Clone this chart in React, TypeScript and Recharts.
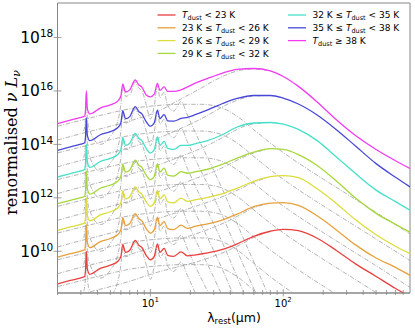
import React from "react";
import { LineChart, Line, XAxis, YAxis, Legend, ReferenceArea } from "recharts";

// wavelength grids (micron)
const lamT = [2, 2.5, 3, 3.2, 3.25, 3.3, 3.35, 3.5, 4.2, 5, 5.7, 6, 6.2, 6.5, 7, 7.7, 8.2, 8.6, 9.3, 10, 10.7, 11.3, 11.8, 12.7, 13.5, 15, 17, 19, 22, 27, 35, 45, 60, 80, 100, 130, 180, 250, 350, 500, 700, 900];
const lamP = [3.15, 3.25, 3.3, 3.35, 3.45, 4.2, 5, 5.7, 6, 6.2, 6.5, 7, 7.7, 8.2, 8.6, 9.3, 10, 10.7, 11.3, 11.8, 12.7, 13.5, 15, 17, 19, 22, 27, 35, 50, 75, 110];
const lamC = [2, 3, 4.5, 7, 11, 17, 24, 33, 45, 60, 80, 110, 150, 200, 300, 450, 650, 900];
const lamD = [2, 3, 4.5, 7, 11, 17, 24, 30, 38, 48, 60, 75];

// log10 of renormalised nu L_nu : total SEDs
const sedRed = [8.78, 8.91, 9.01, 9.06, 9.29, 10.0, 9.36, 9.14, 9.36, 9.48, 9.63, 9.81, 10.26, 9.96, 10.04, 10.41, 10.22, 10.15, 9.85, 9.68, 9.81, 10.28, 9.96, 10.11, 9.85, 9.81, 9.98, 9.83, 9.87, 9.94, 10.07, 10.28, 10.56, 10.75, 10.82, 10.77, 10.49, 10.04, 9.53, 9.06, 8.61, 8.31];
const sedOrange = [9.78, 9.91, 10.01, 10.06, 10.29, 11.0, 10.36, 10.14, 10.36, 10.48, 10.63, 10.81, 11.26, 10.96, 11.04, 11.41, 11.22, 11.15, 10.85, 10.68, 10.81, 11.28, 10.96, 11.11, 10.85, 10.81, 10.98, 10.86, 10.94, 11.03, 11.18, 11.39, 11.67, 11.8, 11.82, 11.72, 11.33, 10.81, 10.24, 9.75, 9.4, 9.1];
const sedYellow = [10.78, 10.91, 11.01, 11.06, 11.29, 12.0, 11.36, 11.14, 11.36, 11.48, 11.63, 11.81, 12.26, 11.96, 12.04, 12.41, 12.22, 12.15, 11.85, 11.68, 11.81, 12.28, 11.96, 12.11, 11.85, 11.81, 11.99, 11.87, 11.93, 12.02, 12.16, 12.36, 12.62, 12.79, 12.83, 12.76, 12.34, 11.8, 11.18, 10.62, 10.19, 9.91];
const sedGreen = [11.78, 11.91, 12.01, 12.06, 12.29, 13.0, 12.36, 12.14, 12.36, 12.48, 12.63, 12.81, 13.26, 12.96, 13.04, 13.41, 13.22, 13.15, 12.85, 12.68, 12.81, 13.28, 12.96, 13.11, 12.85, 12.81, 12.98, 12.92, 12.98, 13.07, 13.26, 13.49, 13.71, 13.84, 13.81, 13.62, 13.21, 12.64, 11.99, 11.42, 11.01, 10.72];
const sedCyan = [12.78, 12.91, 13.01, 13.06, 13.29, 14.0, 13.36, 13.14, 13.36, 13.48, 13.63, 13.81, 14.26, 13.96, 14.04, 14.41, 14.22, 14.15, 13.85, 13.68, 13.81, 14.28, 13.96, 14.11, 13.85, 13.81, 13.96, 13.96, 14.03, 14.14, 14.37, 14.65, 14.8, 14.82, 14.76, 14.56, 14.14, 13.54, 12.91, 12.29, 11.86, 11.54];
const sedBlue = [13.78, 13.91, 14.01, 14.06, 14.29, 15.0, 14.36, 14.14, 14.36, 14.48, 14.63, 14.81, 15.26, 14.96, 15.04, 15.41, 15.22, 15.15, 14.85, 14.68, 14.81, 15.28, 14.96, 15.11, 14.88, 14.87, 14.97, 15.01, 15.12, 15.29, 15.53, 15.72, 15.83, 15.83, 15.73, 15.51, 15.1, 14.56, 13.94, 13.28, 12.77, 12.41];
const sedMagenta = [14.78, 14.91, 15.01, 15.06, 15.29, 16.0, 15.36, 15.14, 15.36, 15.48, 15.63, 15.81, 16.26, 15.96, 16.04, 16.41, 16.22, 16.15, 15.85, 15.78, 15.88, 16.28, 16.02, 16.15, 15.98, 15.98, 16.04, 16.15, 16.3, 16.47, 16.67, 16.81, 16.84, 16.75, 16.54, 16.17, 15.59, 14.93, 14.33, 13.81, 13.39, 13.1];

// PAH feature component
const pahRed = [8.5, 9.0, 9.92, 9.1, 8.6, 8.0, 8.3, 8.9, 9.5, 10.2, 9.8, 9.85, 10.33, 10.1, 10.02, 9.5, 8.95, 9.45, 10.2, 9.75, 9.95, 9.45, 9.25, 9.6, 9.1, 8.4, 7.5, 6.3, 4.5, 2.5, 0.5];
const pahOrange = [9.5, 10.0, 10.92, 10.1, 9.6, 9.0, 9.3, 9.9, 10.5, 11.2, 10.8, 10.85, 11.33, 11.1, 11.02, 10.5, 9.95, 10.45, 11.2, 10.75, 10.95, 10.45, 10.25, 10.6, 10.1, 9.4, 8.5, 7.3, 5.5, 3.5, 1.5];
const pahYellow = [10.5, 11.0, 11.92, 11.1, 10.6, 10.0, 10.3, 10.9, 11.5, 12.2, 11.8, 11.85, 12.33, 12.1, 12.02, 11.5, 10.95, 11.45, 12.2, 11.75, 11.95, 11.45, 11.25, 11.6, 11.1, 10.4, 9.5, 8.3, 6.5, 4.5, 2.5];
const pahGreen = [11.5, 12.0, 12.92, 12.1, 11.6, 11.0, 11.3, 11.9, 12.5, 13.2, 12.8, 12.85, 13.33, 13.1, 13.02, 12.5, 11.95, 12.45, 13.2, 12.75, 12.95, 12.45, 12.25, 12.6, 12.1, 11.4, 10.5, 9.3, 7.5, 5.5, 3.5];
const pahCyan = [12.5, 13.0, 13.92, 13.1, 12.6, 12.0, 12.3, 12.9, 13.5, 14.2, 13.8, 13.85, 14.33, 14.1, 14.02, 13.5, 12.95, 13.45, 14.2, 13.75, 13.95, 13.45, 13.25, 13.6, 13.1, 12.4, 11.5, 10.3, 8.5, 6.5, 4.5];
const pahBlue = [13.5, 14.0, 14.92, 14.1, 13.6, 13.0, 13.3, 13.9, 14.5, 15.2, 14.8, 14.85, 15.33, 15.1, 15.02, 14.5, 13.95, 14.45, 15.2, 14.75, 14.95, 14.45, 14.25, 14.6, 14.1, 13.4, 12.5, 11.3, 9.5, 7.5, 5.5];
const pahMagenta = [14.5, 15.0, 15.92, 15.1, 14.6, 14.0, 14.3, 14.9, 15.5, 16.2, 15.8, 15.85, 16.33, 16.1, 16.02, 15.5, 14.95, 15.45, 16.2, 15.75, 15.95, 15.45, 15.25, 15.6, 15.1, 14.4, 13.5, 12.3, 10.5, 8.5, 6.5];

// hot / warm continuum component
const contRed = [8.68, 8.9, 9.12, 9.33, 9.45, 9.5, 9.5, 9.4, 9.05, 8.55, 8.05, 7.55, 7.1, 6.7, 6.15, 5.6, 5.1, 4.65];
const contOrange = [9.68, 9.9, 10.12, 10.33, 10.45, 10.5, 10.5, 10.4, 10.05, 9.55, 9.05, 8.55, 8.1, 7.7, 7.15, 6.6, 6.1, 5.65];
const contYellow = [10.68, 10.9, 11.12, 11.33, 11.45, 11.5, 11.5, 11.4, 11.05, 10.55, 10.05, 9.55, 9.1, 8.7, 8.15, 7.6, 7.1, 6.65];
const contGreen = [11.68, 11.9, 12.12, 12.33, 12.45, 12.5, 12.5, 12.4, 12.05, 11.55, 11.05, 10.55, 10.1, 9.7, 9.15, 8.6, 8.1, 7.65];
const contCyan = [12.68, 12.9, 13.12, 13.33, 13.45, 13.5, 13.5, 13.4, 13.05, 12.55, 12.05, 11.55, 11.1, 10.7, 10.15, 9.6, 9.1, 8.65];
const contBlue = [13.68, 13.9, 14.12, 14.33, 14.45, 14.5, 14.5, 14.4, 14.05, 13.55, 13.05, 12.55, 12.1, 11.7, 11.15, 10.6, 10.1, 9.65];
const contMagenta = [14.68, 14.9, 15.12, 15.33, 15.45, 15.5, 15.5, 15.4, 15.05, 14.55, 14.05, 13.55, 13.1, 12.7, 12.15, 11.6, 11.1, 10.65];

// cold dust component with mid-IR power law
const coldRed = [8.16, 8.4, 8.62, 8.88, 9.2, 9.45, 9.65, 9.82, 10.02, 10.26, 10.52, 10.7];
const coldOrange = [9.16, 9.4, 9.62, 9.88, 10.2, 10.47, 10.72, 10.9, 11.12, 11.38, 11.63, 11.77];
const coldYellow = [10.16, 10.4, 10.62, 10.88, 11.2, 11.5, 11.75, 11.92, 12.12, 12.35, 12.58, 12.75];
const coldGreen = [11.16, 11.4, 11.62, 11.88, 12.2, 12.52, 12.8, 12.98, 13.22, 13.48, 13.68, 13.81];
const coldCyan = [12.16, 12.4, 12.62, 12.88, 13.2, 13.55, 13.85, 14.08, 14.36, 14.63, 14.77, 14.81];
const coldBlue = [13.16, 13.4, 13.62, 13.88, 14.2, 14.6, 14.95, 15.22, 15.5, 15.7, 15.81, 15.82];
const coldMagenta = [14.16, 14.4, 14.62, 14.88, 15.2, 15.7, 16.1, 16.38, 16.62, 16.78, 16.82, 16.76];

const xTicks = [2, 3, 4, 5, 6, 7, 8, 9, 10, 20, 30, 40, 50, 60, 70, 80, 90, 100, 200, 300, 400, 500, 600, 700, 800];
const yTicks = [10, 12, 14, 16, 18];
const legendPrefix = ["", "23 K ≤ ", "26 K ≤ ", "29 K ≤ ", "32 K ≤ ", "35 K ≤ ", ""];
const legendSuffix = [" < 23 K", " < 26 K", " < 29 K", " < 32 K", " < 35 K", " < 38 K", " ≥ 38 K"];
const colors = ["#e8403e", "#e8a03c", "#dcdc3a", "#a6d83c", "#46e0c8", "#4848d8", "#f03cf0"];

const SERIES = [
  { total: sedRed, pah: pahRed, cont: contRed, cold: coldRed },
  { total: sedOrange, pah: pahOrange, cont: contOrange, cold: coldOrange },
  { total: sedYellow, pah: pahYellow, cont: contYellow, cold: coldYellow },
  { total: sedGreen, pah: pahGreen, cont: contGreen, cold: coldGreen },
  { total: sedCyan, pah: pahCyan, cont: contCyan, cold: coldCyan },
  { total: sedBlue, pah: pahBlue, cont: contBlue, cold: coldBlue },
  { total: sedMagenta, pah: pahMagenta, cont: contMagenta, cold: coldMagenta },
];

const AXIS = "#888888";
const GRAY = "#999999";
const FONT = "DejaVu Sans, Verdana, sans-serif";

const pts = (lams: number[], vals: number[]) => lams.map((l, i) => ({ lam: l, v: vals[i] }));

const XTick = (props: any) => {
  const { x, y, payload } = props;
  const v = payload.value;
  const major = v === 10 || v === 100;
  return (
    <g>
      <line x1={x} x2={x} y1={y - (major ? 4 : 3)} y2={y + (major ? 3.5 : 2)} stroke={AXIS} strokeWidth={0.8} />
      {major && (
        <text x={x} y={y + 13.5} textAnchor="middle" fontFamily={FONT} fontSize={10} fill="#000">
          <tspan>10</tspan>
          <tspan fontSize={7} dy={-5}>{v === 10 ? "1" : "2"}</tspan>
        </text>
      )}
    </g>
  );
};

const YTick = (props: any) => {
  const { x, y, payload } = props;
  return (
    <g>
      <line x1={x - 4} x2={x + 4} y1={y} y2={y} stroke={AXIS} strokeWidth={0.8} />
      <text x={x - 4.2} y={y + 5.5} textAnchor="end" fontFamily={FONT} fontSize={15.5} fill="#000">
        <tspan>10</tspan>
        <tspan fontSize={10.5} dy={-6}>{payload.value}</tspan>
      </text>
    </g>
  );
};

const YLabel = () => (
  <text transform="translate(17,142.5) rotate(-90)" textAnchor="middle" fontFamily="DejaVu Serif, serif" fontSize={16} fill="#000">
    {"renormalised "}
    <tspan fontStyle="italic">{"ν L"}</tspan>
    <tspan fontStyle="italic" fontSize={11} dy={3}>ν</tspan>
  </text>
);

const XLabel = () => (
  <text x={234} y={321.5} textAnchor="middle" fontFamily={FONT} fontSize={12.5} fill="#000">
    {"λ"}
    <tspan fontSize={8.5} dy={2.5}>rest</tspan>
    <tspan dy={-2.5}>(µm)</tspan>
  </text>
);

const LegendBox = () => (
  <svg width={415} height={70} style={{ display: "block" }}>
    {colors.map((c, i) => {
      const col = i < 4 ? 0 : 1;
      const row = i < 4 ? i : i - 4;
      const lx = col === 0 ? 157.5 : 288;
      const ry = 15 + row * 12.8;
      return (
        <g key={i}>
          <line x1={lx} x2={lx + 18} y1={ry} y2={ry} stroke={c} strokeWidth={1.3} />
          <text x={lx + 24.5} y={ry + 3.2} fontFamily={FONT} fontSize={9} fill="#000" style={{ whiteSpace: "pre" }}>
            {legendPrefix[i]}
            <tspan fontStyle="italic">T</tspan>
            <tspan fontSize={6.5} dy={2}>dust</tspan>
            <tspan dy={-2}>{legendSuffix[i]}</tspan>
          </text>
        </g>
      );
    })}
  </svg>
);

export default function App() {
  const grayLines: any[] = [];
  SERIES.forEach((s, i) => {
    const comps: [number[], number[], string][] = [
      [lamC, s.cont, "c"],
      [lamD, s.cold, "d"],
      [lamP, s.pah, "p"],
    ];
    comps.forEach(([l, v, k]) => {
      grayLines.push(
        <Line
          key={`${k}${i}`}
          data={pts(l, v)}
          dataKey="v"
          type="monotone"
          stroke={GRAY}
          strokeWidth={0.75}
          strokeDasharray="4.5 1.5 1 1.5"
          dot={false}
          activeDot={false}
          legendType="none"
          isAnimationActive={false}
        />
      );
    });
  });
  return (
    <div style={{ position: "absolute", left: 0, top: 0 }}>
      <LineChart width={415} height={332} margin={{ top: 3, right: 5, bottom: 0, left: 0 }}>
        <XAxis
          dataKey="lam"
          type="number"
          scale="log"
          domain={[2, 900]}
          allowDataOverflow
          ticks={xTicks}
          interval={0}
          tick={(p: any) => <XTick {...p} />}
          tickLine={false}
          tickSize={0}
          tickMargin={0}
          height={39}
          axisLine={{ stroke: AXIS, strokeWidth: 1 }}
          label={XLabel}
        />
        <YAxis
          type="number"
          domain={[8.44, 19.29]}
          allowDataOverflow
          ticks={yTicks}
          interval={0}
          tick={(p: any) => <YTick {...p} />}
          tickLine={false}
          tickSize={0}
          tickMargin={0}
          width={57.5}
          axisLine={{ stroke: AXIS, strokeWidth: 1 }}
          label={YLabel}
        />
        <ReferenceArea x1={2} x2={900} y1={8.44} y2={19.29} fill="none" stroke={AXIS} strokeWidth={1} />
        {grayLines}
        {SERIES.map((s, i) => (
          <Line
            key={`t${i}`}
            data={pts(lamT, s.total)}
            dataKey="v"
            type="monotone"
            stroke={colors[i]}
            strokeWidth={1.3}
            dot={false}
            activeDot={false}
            legendType="none"
            isAnimationActive={false}
          />
        ))}
        <Legend
          content={LegendBox}
          layout="horizontal"
          verticalAlign="middle"
          align="center"
          wrapperStyle={{ position: "absolute", left: 0, top: 0, width: 415, height: 70 }}
        />
      </LineChart>
    </div>
  );
}
